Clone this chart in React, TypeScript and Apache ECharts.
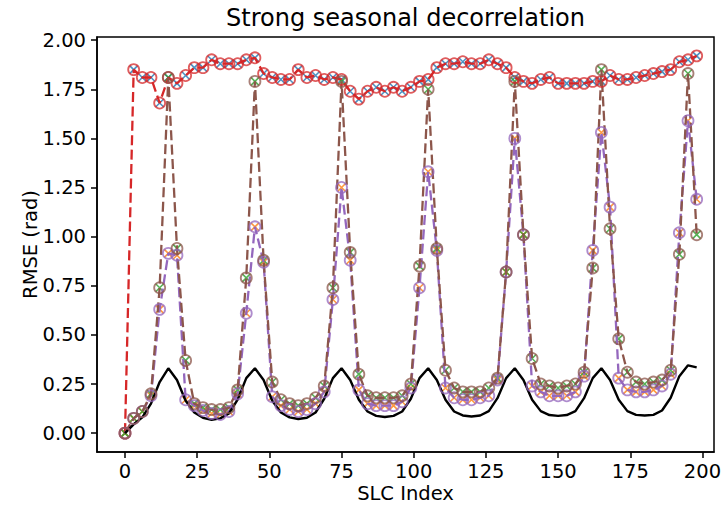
import React, { useEffect, useRef } from "react";
import * as echarts from "echarts";

const SLC_INDEX = [
  0, 3, 6, 9, 12, 15, 18, 21, 24, 27, 30, 33, 36, 39, 42, 45, 48, 51, 54, 57,
  60, 63, 66, 69, 72, 75, 78, 81, 84, 87, 90, 93, 96, 99, 102, 105, 108, 111,
  114, 117, 120, 123, 126, 129, 132, 135, 138, 141, 144, 147, 150, 153, 156,
  159, 162, 165, 168, 171, 174, 177, 180, 183, 186, 189, 192, 195, 198,
];

// red dashed circles + blue x
const METHOD_A = [
  0.0, 1.85, 1.81, 1.81, 1.68, 1.81, 1.78, 1.82, 1.86, 1.86, 1.9, 1.88, 1.88,
  1.88, 1.9, 1.91, 1.83, 1.81, 1.8, 1.8, 1.85, 1.81, 1.82, 1.8, 1.81, 1.8,
  1.74, 1.7, 1.74, 1.76, 1.74, 1.76, 1.74, 1.76, 1.79, 1.8, 1.86, 1.88, 1.88,
  1.89, 1.88, 1.88, 1.9, 1.88, 1.86, 1.81, 1.79, 1.78, 1.8, 1.81, 1.78, 1.78,
  1.78, 1.78, 1.79, 1.79, 1.82, 1.8, 1.8, 1.81, 1.82, 1.83, 1.84, 1.85, 1.89,
  1.9, 1.92,
];

// purple dashed circles + orange x
const METHOD_B = [
  0.0, 0.075, 0.11, 0.19, 0.63, 0.915, 0.905, 0.17, 0.14, 0.115, 0.1, 0.095,
  0.11, 0.2, 0.61, 1.05, 0.87, 0.185, 0.14, 0.12, 0.11, 0.12, 0.15, 0.21, 0.68,
  1.25, 0.88, 0.22, 0.15, 0.14, 0.14, 0.14, 0.16, 0.23, 0.74, 1.33, 0.93, 0.23,
  0.18, 0.17, 0.17, 0.18, 0.19, 0.27, 0.82, 1.5, 1.01, 0.24, 0.21, 0.19, 0.19,
  0.19, 0.21, 0.29, 0.93, 1.53, 1.15, 0.28, 0.22, 0.21, 0.21, 0.22, 0.24, 0.3,
  1.02, 1.59, 1.19,
];

// brown dashed circles + green x
const METHOD_C = [
  0.0, 0.075, 0.11, 0.2, 0.74, 1.81, 0.94, 0.37, 0.15, 0.13, 0.12, 0.12, 0.13,
  0.22, 0.79, 1.79, 0.88, 0.26, 0.17, 0.15, 0.14, 0.15, 0.18, 0.24, 0.74, 1.79,
  0.92, 0.3, 0.19, 0.18, 0.18, 0.18, 0.19, 0.25, 0.85, 1.75, 0.94, 0.32, 0.23,
  0.21, 0.21, 0.21, 0.23, 0.28, 0.82, 1.79, 1.01, 0.38, 0.25, 0.24, 0.23, 0.24,
  0.25, 0.31, 0.84, 1.85, 1.04, 0.48, 0.31, 0.26, 0.25, 0.26, 0.27, 0.32, 0.91,
  1.83, 1.01,
];

// black solid reference
const REFERENCE = [
  0.0, 0.045, 0.08, 0.15, 0.26, 0.33, 0.27, 0.165, 0.105, 0.078, 0.068, 0.075,
  0.1, 0.17, 0.28, 0.33, 0.27, 0.165, 0.105, 0.08, 0.072, 0.078, 0.105, 0.175,
  0.28, 0.33, 0.27, 0.17, 0.11, 0.088, 0.082, 0.088, 0.11, 0.175, 0.28, 0.33,
  0.27, 0.17, 0.11, 0.09, 0.085, 0.09, 0.112, 0.178, 0.28, 0.33, 0.27, 0.17,
  0.112, 0.092, 0.088, 0.092, 0.112, 0.178, 0.28, 0.33, 0.27, 0.17, 0.112,
  0.093, 0.09, 0.093, 0.115, 0.18, 0.29, 0.345, 0.335,
];

const X_TICKS = [0, 25, 50, 75, 100, 125, 150, 175, 200];
const Y_TICKS = [0, 0.25, 0.5, 0.75, 1.0, 1.25, 1.5, 1.75, 2.0];

const FONT = "DejaVu Sans";
const X_MARK = "path://M0,0L10,10M10,0L0,10";

function pairs(vals: number[]) {
  return SLC_INDEX.map((x, i) => [x, vals[i]]);
}

function circleLine(name: string, vals: number[], color: string, stroke: string) {
  return {
    name,
    type: "line",
    data: pairs(vals),
    symbol: "circle",
    symbolSize: 11,
    showSymbol: true,
    lineStyle: { color, width: 2.3, type: [10, 4.4] },
    itemStyle: { color: "rgba(0,0,0,0)", borderColor: stroke, borderWidth: 1.8 },
    emphasis: { disabled: true },
  };
}

function xMarks(name: string, vals: number[], color: string) {
  return {
    name,
    type: "scatter",
    data: pairs(vals),
    symbol: X_MARK,
    symbolSize: 8,
    itemStyle: { color: "rgba(0,0,0,0)", borderColor: color, borderWidth: 1.6 },
    emphasis: { disabled: true },
  };
}

export default function App() {
  const ref = useRef<HTMLDivElement>(null);
  useEffect(() => {
    if (!ref.current) return;
    const chart = echarts.init(ref.current, null, { renderer: "svg" });
    chart.setOption({
      animation: false,
      backgroundColor: "#fff",
      grid: {
        left: 97,
        right: 11,
        top: 37,
        bottom: 53,
        containLabel: false,
        outerBoundsMode: "none",
        show: true,
        borderColor: "#000",
        borderWidth: 1.5,
        backgroundColor: "transparent",
      },
      graphic: [
        {
          type: "text",
          x: 405.5,
          y: 6,
          style: {
            text: "Strong seasonal decorrelation",
            fontSize: 24,
            fontFamily: FONT,
            fill: "#000",
            align: "center",
            verticalAlign: "top",
            textAlign: "center",
            textVerticalAlign: "top",
          },
        },
      ],
      xAxis: {
        type: "value",
        min: -9.7,
        max: 204,
        name: "SLC Index",
        nameLocation: "middle",
        nameGap: 31,
        nameMoveOverlap: false,
        nameTextStyle: { fontSize: 19.5, fontFamily: FONT, color: "#000" },
        splitLine: { show: false },
        axisLine: { show: true, onZero: false, lineStyle: { color: "#000", width: 1.5 } },
        axisTick: {
          show: true,
          inside: false,
          length: 6,
          lineStyle: { color: "#000", width: 1.5 },
          customValues: X_TICKS,
        },
        axisLabel: {
          customValues: X_TICKS,
          fontSize: 19.5,
          fontFamily: FONT,
          color: "#000",
          margin: 9,
        },
      },
      yAxis: {
        type: "value",
        min: -0.096,
        max: 2.016,
        name: "RMSE (rad)",
        nameLocation: "middle",
        nameGap: 57,
        nameRotate: 90,
        nameMoveOverlap: false,
        nameTextStyle: { fontSize: 19.5, fontFamily: FONT, color: "#000" },
        splitLine: { show: false },
        axisLine: { show: true, onZero: false, lineStyle: { color: "#000", width: 1.5 } },
        axisTick: {
          show: true,
          inside: false,
          length: 6,
          lineStyle: { color: "#000", width: 1.5 },
          customValues: Y_TICKS,
        },
        axisLabel: {
          customValues: Y_TICKS,
          fontSize: 19.5,
          fontFamily: FONT,
          color: "#000",
          margin: 11,
          formatter: (v: number) => v.toFixed(2),
        },
      },
      series: [
        xMarks("A (x)", METHOD_A, "#1f77b4"),
        xMarks("B (x)", METHOD_B, "#ff7f0e"),
        xMarks("C (x)", METHOD_C, "#2ca02c"),
        circleLine("A", METHOD_A, "#d62728", "rgba(214,39,40,0.75)"),
        circleLine("B", METHOD_B, "#9467bd", "rgba(148,103,189,0.75)"),
        circleLine("C", METHOD_C, "#8c564b", "rgba(140,86,75,0.75)"),
        {
          name: "Reference",
          type: "line",
          data: pairs(REFERENCE),
          symbol: "none",
          lineStyle: { color: "#000", width: 2.4, type: "solid" },
          emphasis: { disabled: true },
        },
      ],
    });
    return () => chart.dispose();
  }, []);
  return (
    <div
      ref={ref}
      style={{ position: "fixed", left: 0, top: 0, width: 725, height: 505 }}
    />
  );
}
